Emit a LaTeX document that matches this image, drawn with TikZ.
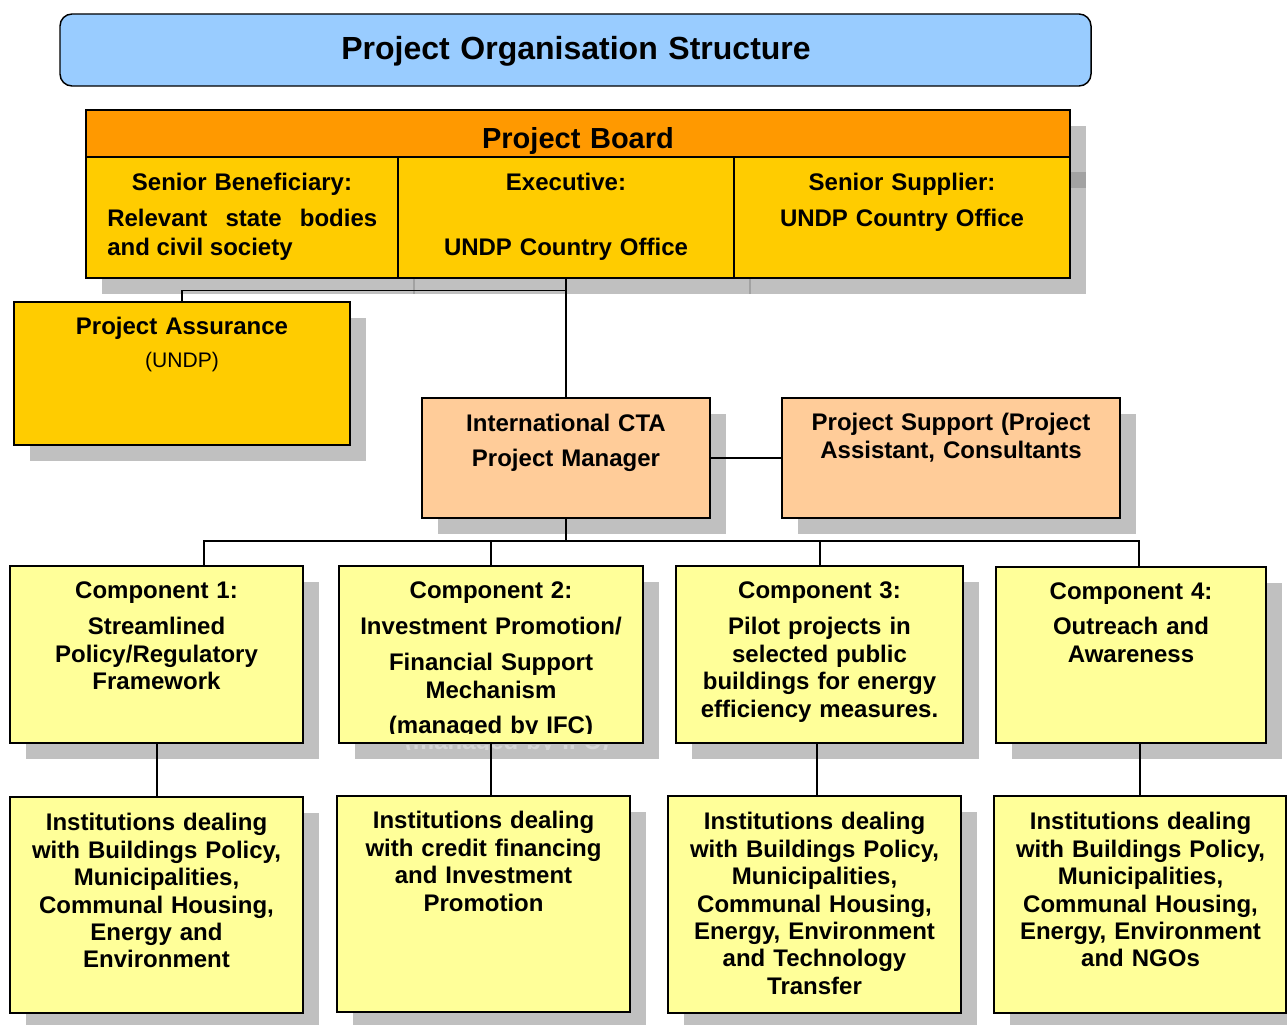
\documentclass[tikz,border=0pt]{standalone}
\usepackage{fontspec}
\setmainfont{Liberation Sans}
\usetikzlibrary{positioning, calc, shadows}
\definecolor{titleblue}{RGB}{153,204,255}
\definecolor{boardorange}{RGB}{255,153,0}
\definecolor{boardyellow}{RGB}{255,204,0}
\definecolor{managerpeach}{RGB}{255,204,153}
\definecolor{componentyellow}{RGB}{255,255,153}
\definecolor{shadowgray}{RGB}{192,192,192}
\definecolor{shadowdark}{RGB}{162,162,162}
\definecolor{ghostgray}{RGB}{214,214,214}
\tikzset{
    boxshadow/.style={drop shadow={shadow xshift=12pt, shadow yshift=-12pt, fill=shadowgray, opacity=1}},
    heading/.style={rectangle, rounded corners=9pt, draw=black, fill=titleblue, line width=1.1pt, minimum width=773.25pt, minimum height=54pt},
    boardpart/.style={rectangle, draw=black, fill=boardyellow, line width=1.4pt, inner sep=0pt},
    assurance/.style={rectangle, draw=black, fill=boardyellow, line width=1.4pt, boxshadow},
    manager/.style={rectangle, draw=black, fill=managerpeach, line width=1.4pt, boxshadow, minimum height=90pt},
    component/.style={rectangle, draw=black, fill=componentyellow, line width=1.4pt, boxshadow},
    txt/.style={font=\fontsize{18}{20.6}\selectfont\bfseries, inner sep=0pt, align=center, text width=210pt, anchor=base},
    link/.style={draw=black, line width=1.3pt},
}

\begin{document}
\begin{tikzpicture}[x=0.75pt, y=-0.75pt]
    \clip (0,0) rectangle (1287,1024);
    % title
    \node[heading] (title) at (575.5,50) {};
    \node[txt, font=\fontsize{24}{28}\selectfont\bfseries, text width=500pt] (titlelbl) at (576,59.5) {Project Organisation Structure};
    % project board
    \node[boardpart, boxshadow, minimum width=738pt, minimum height=126pt] (board) at (578,194) {};
    \fill[shadowdark] (1071,172) rectangle (1086,188);
    \draw[shadowdark, line width=1pt] (414,279) -- (414,294);
    \draw[shadowdark, line width=1pt] (750,279) -- (750,294);
    \node[boardpart, fill=boardorange, minimum width=738pt, minimum height=35.25pt] (boardhead) at (578,133.5) {};
    \node[boardpart, minimum width=234pt, minimum height=90.75pt] (beneficiary) at (242,217.5) {};
    \node[boardpart, minimum width=252pt, minimum height=90.75pt] (executive) at (566,217.5) {};
    \node[boardpart, minimum width=252pt, minimum height=90.75pt] (supplier) at (902,217.5) {};
    \node[txt, font=\fontsize{21.75}{26}\selectfont\bfseries] (boardlbl) at (578,148.4) {Project Board};
    \node[txt] (beneficiarylbl) at (242,190.6) {Senior Beneficiary:};
    \node[txt, font=\fontsize{18}{21.75}\selectfont\bfseries, text width=202.5pt, align=justify, anchor=base west] (beneficiarybody) at (107,226.6) {Relevant\hfill state\hfill bodies\\and civil society};
    \node[txt] (executivelbl) at (566,190.6) {Executive:\\[28.15pt]UNDP Country Office};
    \node[txt] (supplierlbl) at (902,190.6) {Senior Supplier:\\[6.4pt]UNDP Country Office};
    % assurance, manager, support
    \node[assurance, minimum width=252pt, minimum height=107.25pt] (assure) at (182,373.5) {};
    \node[txt] (assurelbl) at (182,334.6) {Project Assurance\\[4.15pt]{\mdseries\fontsize{15.8}{20.6}\selectfont (UNDP)}};
    \node[manager, minimum width=216pt] (cta) at (566,458) {};
    \node[txt] (ctalbl) at (566,431.6) {International CTA\\[5.65pt]Project Manager};
    \node[manager, minimum width=253.5pt] (support) at (951,458) {};
    \node[txt, text width=240pt] (supportlbl) at (951,430.6) {Project Support (Project\\Assistant, Consultants};
    % components
    \node[component, minimum width=219.75pt, minimum height=132.75pt] (comp1) at (156.5,654.5) {};
    \node[component, minimum width=228pt, minimum height=132.75pt] (comp2) at (491,654.5) {};
    \node[component, minimum width=215.25pt, minimum height=132.75pt] (comp3) at (819.5,654.5) {};
    \node[component, minimum width=202.5pt, minimum height=132pt] (comp4) at (1131,655) {};
    \node[txt] (comp1lbl) at (156.5,598.6) {Component 1:\\[6.4pt]Streamlined\\Policy/Regulatory\\Framework};
    \begin{scope}
        \clip (comp2.north west) rectangle ([yshift=7.5pt]comp2.south east);
        \node[txt] (comp2lbl) at (491,598.6) {Component 2:\\[6.4pt]Investment Promotion/\\[6.4pt]Financial Support\\Mechanism\\[5.6pt](managed by IFC)};
    \end{scope}
    \begin{scope}
        \clip ([yshift=-0.8pt]comp2.south west) rectangle ([xshift=12pt, yshift=-4.5pt]comp2.south east);
        \node[txt, text=ghostgray] (comp2ghost) at (507,749) {(managed by IFC)};
    \end{scope}
    \node[txt] (comp3lbl) at (819.5,598.6) {Component 3:\\[6.4pt]Pilot projects in\\selected public\\buildings for energy\\efficiency measures.};
    \node[txt] (comp4lbl) at (1131,599.6) {Component 4:\\[5.65pt]Outreach and\\Awareness};
    % institutions
    \node[component, minimum width=219.75pt, minimum height=162pt] (inst1) at (156.5,905) {};
    \node[component, minimum width=219.75pt, minimum height=162pt] (inst2) at (483.5,904) {};
    \node[component, minimum width=219.75pt, minimum height=162.75pt] (inst3) at (814.5,904.5) {};
    \node[component, minimum width=219pt, minimum height=162.75pt] (inst4) at (1140,904.5) {};
    \node[txt] (inst1lbl) at (156.5,830.6) {Institutions dealing\\with Buildings Policy,\\Municipalities,\\Communal Housing,\\Energy and\\Environment};
    \node[txt] (inst2lbl) at (483.5,828.6) {Institutions dealing\\with credit financing\\and Investment\\Promotion};
    \node[txt] (inst3lbl) at (814.5,829.6) {Institutions dealing\\with Buildings Policy,\\Municipalities,\\Communal Housing,\\Energy, Environment\\and Technology\\Transfer};
    \node[txt] (inst4lbl) at (1140.5,829.6) {Institutions dealing\\with Buildings Policy,\\Municipalities,\\Communal Housing,\\Energy, Environment\\and NGOs};
    % connectors
    \coordinate (boardjoin) at (566,290.5);
    \coordinate (split) at (566,541);
    \draw[link] (cta.north |- board.south) -- (cta.north);
    \draw[link] (assure.north) |- (boardjoin);
    \draw[link] (cta) -- (support);
    \draw[link] (cta.south) -- (split);
    \draw[link] ([xshift=35.6pt]comp1.north) |- (split);
    \draw[link] (comp2.north) |- (split);
    \draw[link] ([xshift=0.375pt]comp3.north) |- (split);
    \draw[link] ([xshift=6pt]comp4.north) |- (split);
    \draw[link] ([xshift=0.375pt]comp1.south) -- ([xshift=0.375pt]inst1.north);
    \draw[link] (comp2.south) -- (comp2.south |- inst2.north);
    \draw[link] ([xshift=-1.875pt]comp3.south) -- ([xshift=1.875pt]inst3.north);
    \draw[link] (inst4.north |- comp4.south) -- (inst4.north);
\end{tikzpicture}
\end{document}
